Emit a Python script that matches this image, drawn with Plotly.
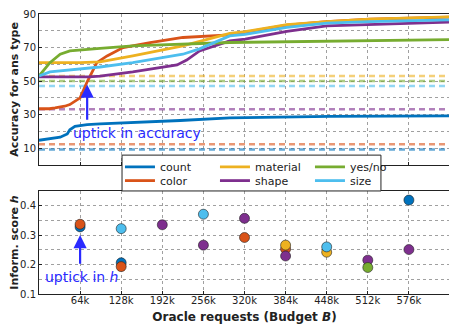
import plotly.graph_objects as go
from plotly.subplots import make_subplots

# accuracy curves (x in thousands of oracle requests)
count_x = [0, 17, 33, 44, 48, 56, 75, 95, 126, 173, 220, 297, 360, 453, 640]
count_y = [14.7, 15.5, 16.5, 18.5, 21, 23, 24, 24.5, 25, 25.5, 26.5, 28, 28.5, 29, 29.3]
color_x = [0, 16, 25, 40, 48, 64, 75, 90, 106, 131, 173, 224, 297, 386, 448, 515, 640]
color_y = [33.5, 33.5, 34, 35, 36, 40, 49.6, 61, 65, 70, 73, 76, 77.6, 83.3, 85.5, 87, 88.2]
material_x = [0, 64, 95, 146, 224, 297, 321, 386, 448, 515, 640]
material_y = [61, 61, 61.5, 65, 71, 78.4, 79.5, 83.6, 85.4, 86.9, 88.3]
shape_x = [0, 78, 95, 146, 215, 230, 250, 297, 321, 386, 448, 515, 640]
shape_y = [52.5, 52.5, 53, 55.5, 59.6, 62.5, 68, 74, 75, 79.7, 82.9, 83.8, 85.2]
yesno_x = [0, 17, 33, 48, 95, 146, 297, 640]
yesno_y = [53, 61, 66, 68, 69.5, 71, 73, 74.7]
size_x = [0, 17, 95, 146, 224, 250, 297, 321, 386, 448, 515, 640]
size_y = [53, 55.5, 58.4, 61, 66, 69.2, 76.9, 77.8, 82, 84.5, 85.5, 86.5]

# baselines (dashed)
base_count = 9.2
base_color = 12.3
base_material = 53
base_shape = 33.2
base_yesno = 50
base_size = 47

# informativeness scores
h_count_x = [64, 128, 576]
h_count_y = [0.328, 0.206, 0.419]
h_color_x = [64, 128, 320, 384]
h_color_y = [0.337, 0.193, 0.292, 0.253]
h_material_x = [384, 448]
h_material_y = [0.266, 0.242]
h_shape_x = [192, 256, 320, 384, 512, 576]
h_shape_y = [0.335, 0.266, 0.357, 0.229, 0.215, 0.251]
h_yesno_x = [512]
h_yesno_y = [0.19]
h_size_x = [128, 256, 448]
h_size_y = [0.322, 0.371, 0.26]

budget_ticks = [64, 128, 192, 256, 320, 384, 448, 512, 576]
budget_labels = ['64k', '128k', '192k', '256k', '320k', '384k', '448k', '512k', '576k']

c_count = '#0072BD'
c_color = '#D95319'
c_material = '#EDB120'
c_shape = '#7E2F8E'
c_yesno = '#77AC30'
c_size = '#4DBEEE'

series = [
    ('count', c_count, count_x, count_y, base_count, h_count_x, h_count_y, 'legend'),
    ('color', c_color, color_x, color_y, base_color, h_color_x, h_color_y, 'legend2'),
    ('material', c_material, material_x, material_y, base_material, h_material_x, h_material_y, 'legend'),
    ('shape', c_shape, shape_x, shape_y, base_shape, h_shape_x, h_shape_y, 'legend2'),
    ('yes/no', c_yesno, yesno_x, yesno_y, base_yesno, h_yesno_x, h_yesno_y, 'legend'),
    ('size', c_size, size_x, size_y, base_size, h_size_x, h_size_y, 'legend2'),
]

fig = make_subplots(rows=2, cols=1, vertical_spacing=0.093, row_heights=[0.539, 0.368])

for name, col, xs, ys, base, hx, hy, leg in series:
    fig.add_trace(go.Scatter(
        x=[0, 640], y=[base, base], mode='lines', showlegend=False,
        line=dict(color=col, width=2.5, dash='6px,4px'), opacity=0.6
    ), row=1, col=1)

for name, col, xs, ys, base, hx, hy, leg in series:
    fig.add_trace(go.Scatter(
        x=xs, y=ys, mode='lines', name=name, legend=leg,
        line=dict(color=col, width=2.8)
    ), row=1, col=1)

for name, col, xs, ys, base, hx, hy, leg in series:
    fig.add_trace(go.Scatter(
        x=hx, y=hy, mode='markers', showlegend=False,
        marker=dict(color=col, size=10, line=dict(color='#222222', width=0.6))
    ), row=2, col=1)

gridc = '#a0a0a0'
grid = dict(showgrid=True, gridcolor=gridc, griddash='dot', gridwidth=1, automargin=False,
            zeroline=False, showline=True, linecolor='#222222', linewidth=1, mirror=True,
            ticks='inside', ticklen=3, tickcolor='#222222', ticklabeloverflow='allow')

fig.update_xaxes(range=[0, 640], tickvals=budget_ticks, ticktext=budget_labels,
                 ticklabelstandoff=-3, **grid)
fig.update_xaxes(showticklabels=False, row=1, col=1)
fig.update_xaxes(title_text='<b>Oracle requests (Budget <i>B</i>)</b>', title_standoff=7,
                 title_font=dict(size=12), row=2, col=1)

fig.update_yaxes(range=[0, 90], tick0=10, dtick=20,
                 minor=dict(dtick=10, showgrid=True, gridcolor=gridc, griddash='dot'),
                 title_text='<b>Accuracy for ans type</b>', title_standoff=4,
                 title_font=dict(size=11), row=1, col=1, **grid)
fig.update_yaxes(range=[0.1, 0.45], tick0=0.1, dtick=0.1,
                 minor=dict(dtick=0.05, showgrid=True, gridcolor=gridc, griddash='dot'),
                 title_text='<b>Inform. score <i>h</i></b>', title_standoff=4,
                 title_font=dict(size=11), row=2, col=1, **grid)

# legend box spanning both panels
fig.add_shape(type='rect', xref='paper', yref='paper', x0=0.202, x1=0.832, y0=0.368, y1=0.496,
              line=dict(color='#222222', width=1), fillcolor='white', layer='above')

# annotations
fig.add_annotation(x=75, y=48, ax=75, ay=26, xref='x', yref='y', axref='x', ayref='y',
                   text='', showarrow=True, arrowhead=2, arrowsize=1.2, arrowwidth=2.2,
                   arrowcolor='#2a2aff')
fig.add_annotation(x=50, y=19, xref='x', yref='y', text='uptick in accuracy', showarrow=False,
                   xanchor='left', yanchor='middle', font=dict(color='#2a2aff', size=14))
fig.add_annotation(x=64, y=0.3, ax=64, ay=0.198, xref='x2', yref='y2', axref='x2', ayref='y2',
                   text='', showarrow=True, arrowhead=2, arrowsize=1.2, arrowwidth=2.2,
                   arrowcolor='#2a2aff')
fig.add_annotation(x=6, y=0.157, xref='x2', yref='y2', text='uptick in <i>h</i>', showarrow=False,
                   xanchor='left', yanchor='middle', font=dict(color='#2a2aff', size=14))

leg_common = dict(orientation='h', xanchor='left', yanchor='middle', bgcolor='rgba(0,0,0,0)',
                  entrywidth=50, entrywidthmode='pixels', font=dict(size=11, color='#222222'),
                  itemwidth=30, tracegroupgap=0)

# the page body adds an 8px offset, so the figure is drawn 8px smaller
fig.update_layout(
    width=449, height=317,
    margin=dict(l=31, r=7, t=6, b=31),
    plot_bgcolor='white', paper_bgcolor='white',
    font=dict(family='DejaVu Sans', size=10, color='#222222'),
    legend=dict(x=0.197, y=0.454, **leg_common),
    legend2=dict(x=0.197, y=0.405, **leg_common),
)

fig.write_html('out.html')
